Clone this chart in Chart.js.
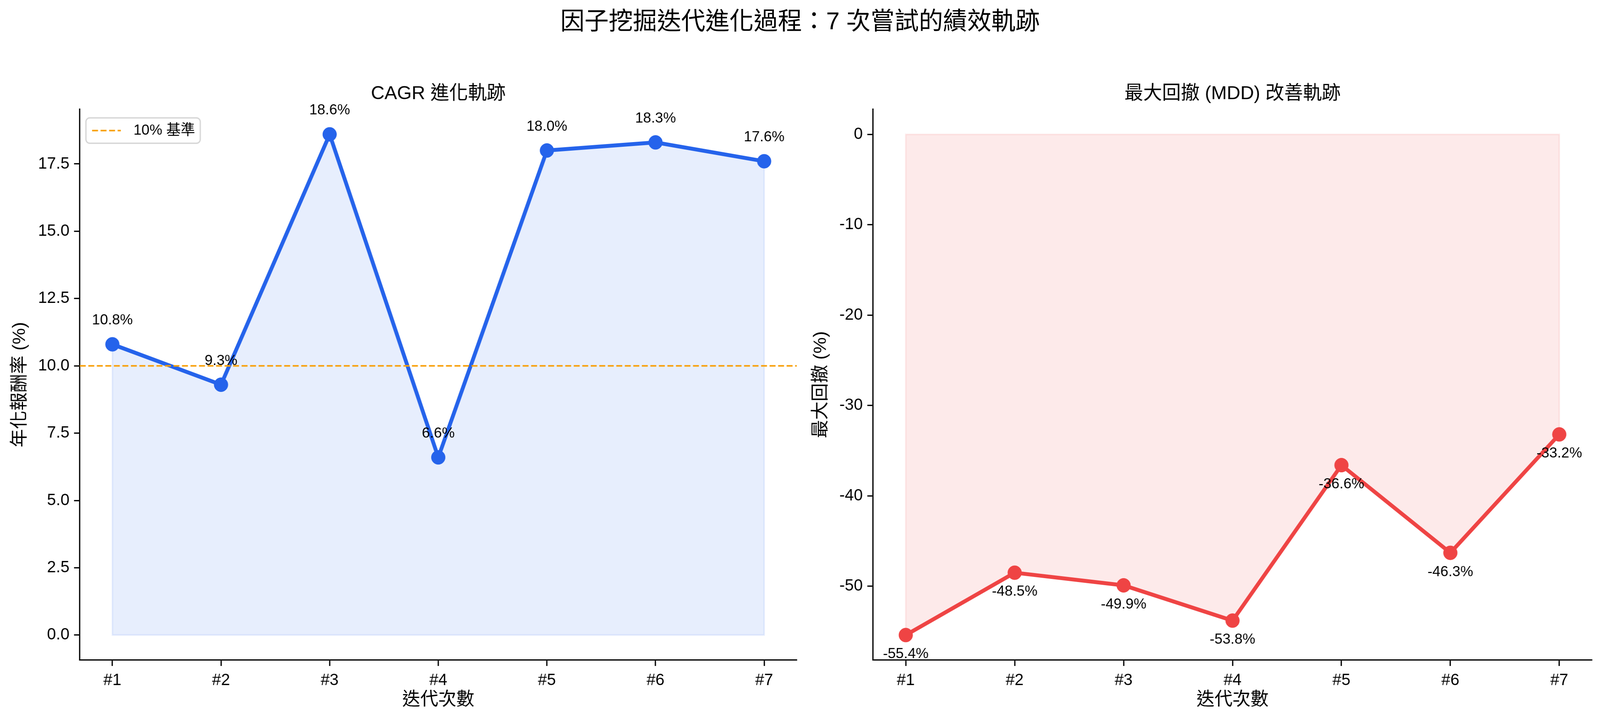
<!DOCTYPE html>
<html>
<head>
<meta charset="utf-8">
<script src="https://cdn.jsdelivr.net/npm/chart.js@4.4.1/dist/chart.umd.min.js"></script>
<style>
  html, body { margin: 0; padding: 0; background: #ffffff; overflow: hidden; }
  #stage { width: 4171px; height: 1847px; position: absolute; left: 0; top: 0; transform-origin: 0 0; background: #fff; }
  #suptitle {
    position: absolute; left: 0; width: 4171px; top: 13px; height: 80px; line-height: 80px;
    text-align: center; font-family: "Liberation Sans", "Noto Sans CJK TC", sans-serif;
    font-size: 63px; color: #000;
  }
  canvas { position: absolute; top: 0; }
  #c1 { left: 0; }
  #c2 { left: 2100px; }
</style>
</head>
<body>
<div id="stage">
<div id="suptitle">因子挖掘迭代進化過程：7 次嘗試的績效軌跡</div>
<canvas id="c1" width="2100" height="1847"></canvas>
<canvas id="c2" width="2071" height="1847"></canvas>
</div>
<script>
// fit the 4171x1847 stage to the actual viewport
(function () {
  const sx = window.innerWidth / 4171, sy = window.innerHeight / 1847;
  document.getElementById("stage").style.transform = "scale(" + sx + "," + sy + ")";
})();

// ---------- data ----------
const iterations = ["#1", "#2", "#3", "#4", "#5", "#6", "#7"];
const cagrValues = [10.8, 9.3, 18.6, 6.6, 18.0, 18.3, 17.6];
const mddValues = [-55.4, -48.5, -49.9, -53.8, -36.6, -46.3, -33.2];
const cagrBenchmark = 10;
const cagrTicks = [0, 2.5, 5, 7.5, 10, 12.5, 15, 17.5];
const mddTicks = [0, -10, -20, -30, -40, -50];

const cagrTitle = "CAGR 進化軌跡";
const mddTitle = "最大回撤 (MDD) 改善軌跡";
const xLabel = "迭代次數";
const cagrYLabel = "年化報酬率 (%)";
const mddYLabel = "最大回撤 (%)";
const benchmarkLabel = "10% 基準";

// ---------- style ----------
const FONT = '"Liberation Sans", "Noto Sans CJK TC", sans-serif';
const BLUE = "#2563EB";
const RED = "#EF4444";
const ORANGE = "#F8A00A";
Chart.defaults.font.family = FONT;
Chart.defaults.color = "#000";

const toPts = (vals) => vals.map((v, i) => ({ x: i, y: v }));

function xScale(titleText) {
  return {
    type: "linear",
    min: -0.3, max: 6.3,
    afterBuildTicks: (s) => { s.ticks = iterations.map((_, i) => ({ value: i })); },
    afterFit: (s) => { s.height = 156; },
    ticks: {
      font: { size: 42 }, color: "#000", padding: 12, maxRotation: 0, autoSkip: false,
      callback: (v) => iterations[v] ?? ""
    },
    grid: { display: true, drawOnChartArea: false, drawTicks: true, tickLength: 15, tickWidth: 3.3, tickColor: "#000" },
    border: { display: true, color: "#000", width: 3.3 },
    title: { display: true, text: titleText, font: { size: 47 }, color: "#000", padding: { top: 0, bottom: 26 } }
  };
}

function yScale(min, max, tickVals, fmt, width, titleText, titlePad) {
  return {
    type: "linear",
    min: min, max: max,
    afterBuildTicks: (s) => { s.ticks = tickVals.map((v) => ({ value: v })); },
    afterFit: (s) => { s.width = width; },
    ticks: { font: { size: 42 }, color: "#000", padding: 12, callback: fmt },
    grid: { display: true, drawOnChartArea: false, drawTicks: true, tickLength: 15, tickWidth: 3.3, tickColor: "#000" },
    border: { display: true, color: "#000", width: 3.3 },
    title: { display: true, text: titleText, font: { size: 47 }, color: "#000", padding: { top: titlePad, bottom: 0 } }
  };
}

// subplot title + data labels + legend + fill outline plugin
const decorPlugin = {
  id: "decor",
  beforeDatasetsDraw(chart) {
    // faint outline of the filled area (like matplotlib's fill_between edge)
    const o = chart.options.plugins.decor;
    const meta = chart.getDatasetMeta(o.labelDataset);
    const ys = chart.scales.y;
    const y0 = ys.getPixelForValue(0);
    const ctx = chart.ctx;
    const pts = meta.data;
    ctx.save();
    ctx.beginPath();
    ctx.moveTo(pts[0].x, y0);
    pts.forEach((p) => ctx.lineTo(p.x, p.y));
    ctx.lineTo(pts[pts.length - 1].x, y0);
    ctx.closePath();
    ctx.lineWidth = 4;
    ctx.strokeStyle = o.edgeColor;
    ctx.stroke();
    ctx.restore();
  },
  afterDatasetsDraw(chart) {
    const o = chart.options.plugins.decor;
    const ctx = chart.ctx;
    ctx.save();
    // data labels
    const meta = chart.getDatasetMeta(o.labelDataset);
    const vals = chart.data.datasets[o.labelDataset].data;
    ctx.font = "37.5px " + FONT;
    ctx.fillStyle = "#000";
    ctx.textAlign = "center";
    ctx.textBaseline = "middle";
    meta.data.forEach((pt, i) => {
      ctx.fillText(vals[i].y.toFixed(1) + "%", pt.x, pt.y + o.labelOffset);
    });
    // subplot title
    ctx.font = "49px " + FONT;
    ctx.fillText(o.title, (chart.chartArea.left + chart.chartArea.right) / 2, 240);
    // legend (inside axes, upper left)
    if (o.legend) {
      const ds = chart.data.datasets[o.legend.dataset];
      const bx = 224, by = 302, bw = 298, bh = 65, r = 10;
      ctx.beginPath();
      ctx.moveTo(bx + r, by);
      ctx.arcTo(bx + bw, by, bx + bw, by + bh, r);
      ctx.arcTo(bx + bw, by + bh, bx, by + bh, r);
      ctx.arcTo(bx, by + bh, bx, by, r);
      ctx.arcTo(bx, by, bx + bw, by, r);
      ctx.closePath();
      ctx.fillStyle = "rgba(255,255,255,0.8)";
      ctx.fill();
      ctx.lineWidth = 3.3;
      ctx.strokeStyle = "#d6d6d6";
      ctx.stroke();
      ctx.beginPath();
      ctx.setLineDash(ds.borderDash);
      ctx.lineWidth = ds.borderWidth;
      ctx.strokeStyle = ds.borderColor;
      ctx.moveTo(240, 334.5);
      ctx.lineTo(315, 334.5);
      ctx.stroke();
      ctx.setLineDash([]);
      ctx.fillStyle = "#000";
      ctx.textAlign = "left";
      ctx.font = "37.5px " + FONT;
      ctx.fillText(ds.label, 348, 334.5);
    }
    ctx.restore();
  }
};

// ---------- left chart: CAGR ----------
new Chart(document.getElementById("c1"), {
  type: "line",
  data: {
    datasets: [
      {
        label: benchmarkLabel,
        data: [{ x: -0.3, y: cagrBenchmark }, { x: 6.3, y: cagrBenchmark }],
        borderColor: ORANGE, borderWidth: 4.2, borderDash: [15.5, 6.7],
        pointRadius: 0, fill: false, order: 0
      },
      {
        label: "CAGR",
        data: toPts(cagrValues),
        borderColor: BLUE, borderWidth: 10,
        backgroundColor: "rgba(37,99,235,0.11)",
        pointRadius: 18, pointBackgroundColor: BLUE, pointBorderColor: BLUE, pointBorderWidth: 1,
        fill: "origin", tension: 0, order: 1
      }
    ]
  },
  options: {
    responsive: false, animation: false, devicePixelRatio: 1,
    layout: { padding: { left: 0, top: 280, right: 23, bottom: 0 } },
    scales: {
      x: xScale(xLabel),
      y: yScale(-0.93, 19.53, cagrTicks, (v) => v.toFixed(1), 208, cagrYLabel, 24)
    },
    plugins: {
      legend: { display: false }, title: { display: false }, tooltip: { enabled: false },
      decor: { labelDataset: 1, labelOffset: -61, title: cagrTitle, legend: { dataset: 0 }, edgeColor: "rgba(37,99,235,0.1)" }
    }
  },
  plugins: [decorPlugin]
});

// ---------- right chart: MDD ----------
new Chart(document.getElementById("c2"), {
  type: "line",
  data: {
    datasets: [
      {
        label: "MDD",
        data: toPts(mddValues),
        borderColor: RED, borderWidth: 10,
        backgroundColor: "rgba(239,68,68,0.11)",
        pointRadius: 18, pointBackgroundColor: RED, pointBorderColor: RED, pointBorderWidth: 1,
        fill: "origin", tension: 0
      }
    ]
  },
  options: {
    responsive: false, animation: false, devicePixelRatio: 1,
    layout: { padding: { left: 0, top: 280, right: 21, bottom: 0 } },
    scales: {
      x: xScale(xLabel),
      y: yScale(-58.17, 2.77, mddTicks, (v) => String(v), 176, mddYLabel, 12)
    },
    plugins: {
      legend: { display: false }, title: { display: false }, tooltip: { enabled: false },
      decor: { labelDataset: 0, labelOffset: 49, title: mddTitle, legend: null, edgeColor: "rgba(239,68,68,0.1)" }
    }
  },
  plugins: [decorPlugin]
});
</script>
</body>
</html>
